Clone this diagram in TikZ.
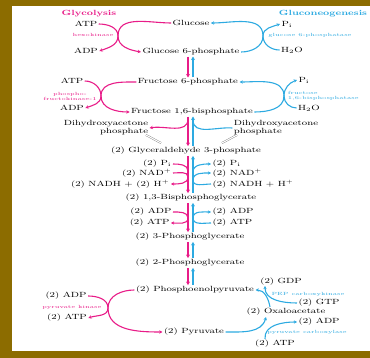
\documentclass[tikz,border=0pt]{standalone}
\usepackage{fontspec}
\usetikzlibrary{arrows.meta}
\definecolor{glypink}{RGB}{232,28,136}
\definecolor{gngblue}{RGB}{45,170,225}
\definecolor{framegold}{RGB}{140,108,0}
\tikzset{
  met/.style={font=\fontsize{7.5}{8}\selectfont, xscale=1.35, inner sep=1pt},
  enz/.style={font=\fontsize{4.5}{5}\selectfont, xscale=1.4, inner sep=0.5pt, align=center},
  ttl/.style={font=\bfseries\fontsize{7.5}{8}\selectfont, xscale=1.35, inner sep=1pt},
  gly/.style={glypink, line width=1.1pt},
  gng/.style={gngblue, line width=1.1pt},
  glyarr/.style={gly, -{Stealth[length=3.2pt,width=3.4pt]}},
  gngarr/.style={gng, -{Stealth[length=3.2pt,width=3.4pt]}},
  vglyc/.style={glypink, line width=1.6pt, -{Stealth[length=3.5pt,width=4pt]}},
  vgng/.style={gngblue, line width=1.6pt, -{Stealth[length=3.5pt,width=4pt]}},
  eqline/.style={draw=black!55, double=white, double distance=1.1pt, line width=0.35pt}
}
\begin{document}
\begin{tikzpicture}[x=1pt, y=-1pt]
  \useasboundingbox (0,0) rectangle (370,358);
  % frame
  \fill[framegold] (0,0) rectangle (370,6);
  \fill[framegold] (0,0) rectangle (12,358);
  \fill[framegold] (0,351) rectangle (370,358);

  \coordinate (mx) at (188,0);
  \coordinate (cx) at (193,0);

  % titles
  \node[ttl, glypink] (glyc) at (89,14) {Glycolysis};
  \node[ttl, gngblue] (gng) at (323,14) {Gluconeogenesis};

  % glucose / glucose 6-phosphate
  \node[met] (glc) at (191,23) {Glucose};
  \node[met] (g6p) at (191,52) {Glucose 6-phosphate};
  \node[met] (atpa) at (86,24) {ATP};
  \node[met] (adpa) at (86,51) {ADP};
  \node[enz, glypink] (hk) at (93,35) {hexokinase};
  \node[met] (pia) at (287,24) {P$_\mathrm{i}$};
  \node[met] (h2oa) at (292,50) {H$_2$O};
  \node[enz, gngblue] (gpase) at (310,35) {glucose 6-phosphatase};
  \coordinate (xa) at (118,36);
  \coordinate (ya) at (263,36);

  % fructose 6-phosphate / fructose 1,6-bisphosphate
  \node[met] (f6p) at (188,82) {Fructose 6-phosphate};
  \node[met] (fbp) at (192,112) {Fructose 1,6-bisphosphate};
  \node[met] (atpb) at (72,81) {ATP};
  \node[met] (adpb) at (72,108) {ADP};
  \node[enz, glypink] (pfk) at (70,96) {phospho-\\fructokinase-1};
  \node[met] (pib) at (304,80) {P$_\mathrm{i}$};
  \node[met] (h2ob) at (309,108) {H$_2$O};
  \node[enz, gngblue, anchor=west, align=left] (fbpase) at (287,96) {fructose\\1,6-bisphosphatase};
  \coordinate (xb) at (101,96);
  \coordinate (yb) at (284,96);

  % triose phosphates
  \node[met, align=right] (dhapl) at (106,128) {Dihydroxyacetone\\phosphate};
  \node[met, align=left] (dhapr) at (276,128) {Dihydroxyacetone\\phosphate};
  \node[met] (g3p) at (186,151) {(2) Glyceraldehyde 3-phosphate};
  \coordinate (bra) at (188,119);
  \coordinate (brb) at (193,120);
  \coordinate (eqa) at (146,135);
  \coordinate (eqb) at (161,143);
  \coordinate (eqc) at (237,135);
  \coordinate (eqd) at (222,143);

  % glyceraldehyde 3-phosphate dehydrogenase step
  \node[met] (bpg) at (191,198) {(2) 1,3-Bisphosphoglycerate};
  \node[met, anchor=east] (pil) at (173,164) {(2) P$_\mathrm{i}$};
  \node[met, anchor=east] (nadl) at (173,173) {(2) NAD$^+$};
  \node[met, anchor=east] (nadhl) at (171,184) {(2) NADH + (2) H$^+$};
  \node[met, anchor=west] (pir) at (211,164) {(2) P$_\mathrm{i}$};
  \node[met, anchor=west] (nadr) at (211,173) {(2) NAD$^+$};
  \node[met, anchor=west] (nadhr) at (211,184) {(2) NADH + H$^+$};
  \coordinate (ma) at (188,171);
  \coordinate (mb) at (188,177);
  \coordinate (ca) at (193,172);
  \coordinate (cb) at (193,180);

  % phosphoglycerate kinase step
  \node[met] (pga3) at (190,237) {(2) 3-Phosphoglycerate};
  \node[met, anchor=east] (adpc) at (173,212) {(2) ADP};
  \node[met, anchor=east] (atpc) at (171,223) {(2) ATP};
  \node[met, anchor=west] (adpd) at (211,212) {(2) ADP};
  \node[met, anchor=west] (atpd) at (211,223) {(2) ATP};
  \coordinate (mc) at (188,218);
  \coordinate (cc) at (193,218);

  \node[met] (pga2) at (190,263) {(2) 2-Phosphoglycerate};
  \node[met] (pep) at (195,290) {(2) Phosphoenolpyruvate};
  \node[met] (pyr) at (194,332) {(2) Pyruvate};

  % pyruvate kinase
  \node[met] (adpe) at (66,296) {(2) ADP};
  \node[enz, glypink] (pk) at (72,307) {pyruvate kinase};
  \node[met] (atpe) at (67,318) {(2) ATP};
  \coordinate (xc) at (108,308);

  % bypass via oxaloacetate
  \node[met] (oaa) at (286,312) {(2) Oxaloacetate};
  \node[met, anchor=west] (adpf) at (297,322) {(2) ADP};
  \node[enz, gngblue] (pcx) at (307,332) {pyruvate carboxylase};
  \node[met] (atpf) at (275,344) {(2) ATP};
  \node[met, anchor=west] (gtpf) at (297,303) {(2) GTP};
  \node[enz, gngblue] (pepck) at (308,294) {PEP carboxykinase};
  \node[met] (gdpf) at (281,282) {(2) GDP};
  \coordinate (oaain) at (266,317);
  \coordinate (oaaout) at (270,307);
  \coordinate (gdpin) at (265,286);
  \coordinate (atpout) at (265,339);

  % bypass curves
  \draw[glyarr] (glc.west) to[out=180,in=90] (xa) to[out=-90,in=170] (g6p.west);
  \draw[glyarr] (atpa.east) to[out=0,in=90] (xa) to[out=-90,in=20] (adpa.east);
  \draw[gngarr] (g6p.east) to[out=0,in=-90] (ya) to[out=90,in=0] (glc.east);
  \draw[gngarr] (h2oa.west) to[out=180,in=-90] (ya) to[out=90,in=200] (pia.west);
  \draw[glyarr] (f6p.west) to[out=180,in=90] (xb) to[out=-90,in=180] (fbp.west);
  \draw[glyarr] (atpb.east) to[out=0,in=90] (xb) to[out=-90,in=20] (adpb.east);
  \draw[gngarr] (fbp.east) to[out=0,in=-90] (yb) to[out=90,in=0] (f6p.east);
  \draw[gngarr] (h2ob.west) to[out=180,in=-90] (yb) to[out=90,in=200] (pib.west);
  \draw[glyarr] (pep.west) to[out=180,in=90] (xc) to[out=-90,in=180] (pyr.west);
  \draw[glyarr] (adpe.east) to[out=0,in=90] (xc) to[out=-90,in=20] (atpe.east);
  \draw[gngarr] (pyr.east) to[out=0,in=-105] (oaain);
  \draw[gngarr] (atpout) to[out=95,in=180] (adpf.west);
  \draw[gngarr] (oaaout) to[out=100,in=0] (pep.east);
  \draw[gngarr] (gtpf.west) to[out=180,in=-90] (gdpin);

  % shared steps
  \draw[vglyc] (g6p.south -| mx) -- (f6p.north -| mx);
  \draw[vgng] (f6p.north -| cx) -- (g6p.south -| cx);
  \draw[vglyc] (fbp.south -| mx) -- (g3p.north -| mx);
  \draw[vgng] (g3p.north -| cx) -- (fbp.south -| cx);
  \draw[vglyc] (g3p.south -| mx) -- (bpg.north -| mx);
  \draw[vgng] (bpg.north -| cx) -- (g3p.south -| cx);
  \draw[vglyc] (bpg.south -| mx) -- (pga3.north -| mx);
  \draw[vgng] (pga3.north -| cx) -- (bpg.south -| cx);
  \draw[vglyc] (pga3.south -| mx) -- (pga2.north -| mx);
  \draw[vgng] (pga2.north -| cx) -- (pga3.south -| cx);
  \draw[vglyc] (pga2.south -| mx) -- (pep.north -| mx);
  \draw[vgng] (pep.north -| cx) -- (pga2.south -| cx);

  % side branches
  \draw[glyarr] (bra) to[out=-90,in=10] (dhapl.east);
  \draw[gng] (dhapr.west) to[out=175,in=-90] (brb);
  \draw[eqline] (eqa) -- (eqb);
  \draw[eqline] (eqc) -- (eqd);
  \draw[gly] (pil.east) to[out=0,in=90] (ma);
  \draw[gly] (nadl.east) to[out=0,in=90] (mb);
  \draw[glyarr] (mb) to[out=-90,in=0] (nadhl.east);
  \draw[gng] (nadhr.west) to[out=180,in=-90] (cb);
  \draw[gngarr] (cb) to[out=90,in=180] (nadr.west);
  \draw[gngarr] (ca) to[out=90,in=180] (pir.west);
  \draw[gly] (adpc.east) to[out=0,in=90] (mc);
  \draw[glyarr] (mc) to[out=-90,in=0] (atpc.east);
  \draw[gng] (atpd.west) to[out=180,in=-90] (cc);
  \draw[gngarr] (cc) to[out=90,in=180] (adpd.west);
\end{tikzpicture}
\end{document}
